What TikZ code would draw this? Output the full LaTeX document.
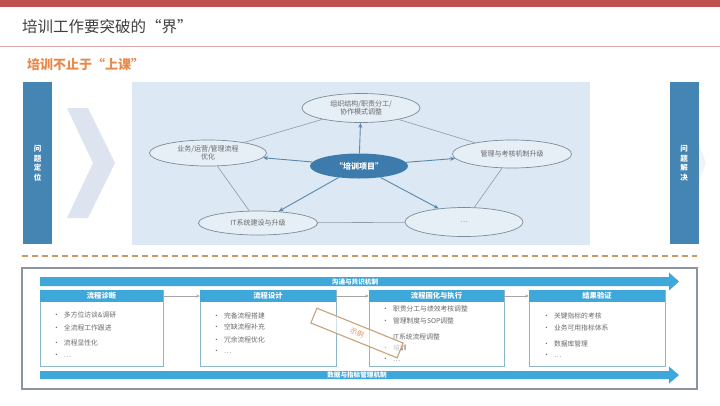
\documentclass[tikz,border=0pt]{standalone}
\usepackage{fontspec}
\setmainfont{Noto Sans CJK SC}
\usetikzlibrary{shapes.geometric,arrows.meta}
\definecolor{topred}{HTML}{C0504D}
\definecolor{thinline}{HTML}{DDA9AC}
\definecolor{titlegray}{HTML}{404040}
\definecolor{subor}{HTML}{E8894A}
\definecolor{barblue}{HTML}{4585B3}
\definecolor{chev}{HTML}{DDE4EF}
\definecolor{panel}{HTML}{DCE8F3}
\definecolor{ellfill}{HTML}{E6EEF6}
\definecolor{ellline}{HTML}{7E8C99}
\definecolor{hubblue}{HTML}{3C7BAB}
\definecolor{arrblue}{HTML}{5B88AA}
\definecolor{plainline}{HTML}{8E9BA8}
\definecolor{dashor}{HTML}{C99A68}
\definecolor{framegray}{HTML}{8C959E}
\definecolor{bannerblue}{HTML}{3FA8DB}
\definecolor{boxline}{HTML}{8DB6C6}
\definecolor{itemgray}{HTML}{6A6A6A}
\definecolor{stampline}{HTML}{C9A27A}
\begin{document}
\begin{tikzpicture}[x=1pt,y=-1pt,
  ell/.style={ellipse,draw=ellline,line width=0.7pt,fill=ellfill,inner sep=0pt,
    align=center,text=itemgray,font=\fontsize{7}{8.5}\selectfont},
  hub/.style={ellipse,fill=hubblue,inner sep=0pt,minimum width=98pt,minimum height=25pt,
    text=white,font=\fontsize{8}{9}\selectfont\bfseries},
  harr/.style={draw=arrblue,line width=0.9pt,-{Stealth[length=5pt,width=4pt]}},
  plain/.style={draw=plainline,line width=0.6pt},
  vbar/.style={fill=barblue,draw=none,minimum width=29pt,minimum height=162pt,inner sep=0pt},
  vtext/.style={text=white,align=center,font=\fontsize{7.5}{9.5}\selectfont\bfseries},
  banner/.style={fill=bannerblue,draw=none},
  blabel/.style={text=white,font=\fontsize{6.6}{7}\selectfont\bfseries,inner sep=0pt},
  stepbox/.style={draw=boxline,line width=0.8pt,fill=white,minimum height=76pt,inner sep=0pt},
  head/.style={fill=bannerblue,minimum height=12pt,inner sep=0pt,text=white,
    font=\fontsize{7.3}{8}\selectfont\bfseries},
  item/.style={anchor=west,inner sep=0pt,text=itemgray,font=\fontsize{6.8}{8}\selectfont},
  flow/.style={draw=gray!70,line width=0.6pt,-{Stealth[length=3.5pt,width=3pt]}},
  stampframe/.style={draw=stampline,line width=1.1pt,fill=white,fill opacity=0.6}
]
\useasboundingbox (0,0) rectangle (720,405);
\fill[white] (0,0) rectangle (720,405);
% header
\fill[topred] (0,0) rectangle (720,7);
\node[anchor=west,inner sep=0pt,text=titlegray,font=\fontsize{15.5}{18}\selectfont] (title) at (22,27) {培训工作要突破的“界”};
\draw[thinline,line width=0.8pt] (0,46) -- (720,46);
\node[anchor=west,inner sep=0pt,text=subor,font=\fontsize{13}{15}\selectfont\bfseries] (sub) at (27,64) {培训不止于“上课”};
% chevrons
\fill[chev] (67,108) -- (88,108) -- (115,163) -- (88,218) -- (67,218) -- (93,163) -- cycle;
\fill[chev!45] (671,108) -- (685,108) -- (706,163) -- (685,218) -- (671,218) -- (692,163) -- cycle;
% bars
\node[vbar] (lbar) at (37.5,163) {};
\node[vtext] at (lbar.center) {问\\题\\定\\位};
\node[vbar] (rbar) at (684,163) {};
\node[vtext] at (rbar.center) {问\\题\\解\\决};
% panel
\fill[panel] (132,82) rectangle (590,245);
% ellipses
\node[ell,minimum width=118pt,minimum height=29pt] (t) at (361,108) {组织结构/职责分工/\\协作模式调整};
\node[ell,minimum width=117pt,minimum height=26pt] (l) at (208,153) {业务/运营/管理流程\\优化};
\node[ell,minimum width=119pt,minimum height=28pt] (r) at (512,154) {管理与考核机制升级};
\node[ell,minimum width=119pt,minimum height=24pt] (bl) at (258,223) {IT系统建设与升级};
\node[ell,minimum width=118pt,minimum height=29pt] (br) at (464,222) {…};
\node[hub] (c) at (359,166) {“培训项目”};
% plain links
\draw[plain] (t) -- (l);
\draw[plain] (t) -- (r);
\draw[plain] (l) -- (bl);
\draw[plain] (r) -- (br);
\draw[plain] (bl) -- (br);
% arrows
\draw[harr] (c) -- (t);
\draw[harr] (c) -- (l);
\draw[harr] (c) -- (r);
\draw[harr] (c) -- (bl);
\draw[harr] (c) -- (br);
% dashed separator
\draw[dashor,line width=1.3pt,dash pattern=on 6pt off 4pt] (22,256) -- (697,256);
% bottom frame
\draw[framegray,line width=1.3pt] (22,268) rectangle (697,389);
% banners
\fill[banner] (40,277) -- (669,277) -- (669,272.5) -- (679,281.5) -- (669,290.5) -- (669,286) -- (40,286) -- cycle;
\node[blabel] (bt) at (355,281.5) {沟通与共识机制};
\fill[banner] (40,371) -- (669,371) -- (669,366.5) -- (679,375) -- (669,383.5) -- (669,379) -- (40,379) -- cycle;
\node[blabel] (bb) at (357,375) {数据与指标管理机制};
% step boxes
\node[stepbox,minimum width=123pt] (b1) at (101.5,328) {};
\node[stepbox,minimum width=136pt] (b2) at (268,328) {};
\node[stepbox,minimum width=135pt] (b3) at (436.5,328) {};
\node[stepbox,minimum width=136pt] (b4) at (597,328) {};
\node[head,minimum width=123pt] (h1) at (101.5,296) {流程诊断};
\node[head,minimum width=136pt] (h2) at (268,296) {流程设计};
\node[head,minimum width=135pt] (h3) at (436.5,296) {流程固化与执行};
\node[head,minimum width=136pt] (h4) at (597,296) {结果验证};
\draw[flow] (h1.east) -- (h2.west);
\draw[flow] (h2.east) -- (h3.west);
\draw[flow] (h3.east) -- (h4.west);
% items box1
\node[item] (i11) at (53,315) {•\hspace{4pt}多方位访谈\&调研};
\node[item] (i12) at (53,328) {•\hspace{4pt}全流程工作跟进};
\node[item] (i13) at (53,343) {•\hspace{4pt}流程显性化};
\node[item] (i14) at (53,356) {•\hspace{4pt}…};
% items box2
\node[item] (i21) at (213,316) {•\hspace{4pt}完备流程搭建};
\node[item] (i22) at (213,327) {•\hspace{4pt}空缺流程补充};
\node[item] (i23) at (213,340) {•\hspace{4pt}冗余流程优化};
\node[item] (i24) at (213,352) {•\hspace{4pt}…};
% items box3
\node[item] (i31) at (382,309) {•\hspace{4pt}职责分工与绩效考核调整};
\node[item] (i32) at (382,321) {•\hspace{4pt}管理制度与SOP调整};
\node[item] (i33) at (382,337) {•\hspace{4pt}IT系统流程调整};
\node[item] (i34) at (382,348) {•\hspace{4pt}培训};
\node[item] (i35) at (382,360) {•\hspace{4pt}…};
% items box4
\node[item] (i41) at (543,316) {•\hspace{4pt}关键指标的考核};
\node[item] (i42) at (543,328) {•\hspace{4pt}业务可用指标体系};
\node[item] (i43) at (543,344) {•\hspace{4pt}数据库管理};
\node[item] (i44) at (543,356) {•\hspace{4pt}…};
% stamp
\coordinate (stampc) at (357,333);
\draw[stampframe,rotate around={-22:(stampc)}] (310.5,325) rectangle (403.5,341);
\node[inner sep=0pt,rotate=-22,text=subor,font=\fontsize{7}{8}\selectfont] (stamptext) at (stampc) {示例};
\end{tikzpicture}
\end{document}
